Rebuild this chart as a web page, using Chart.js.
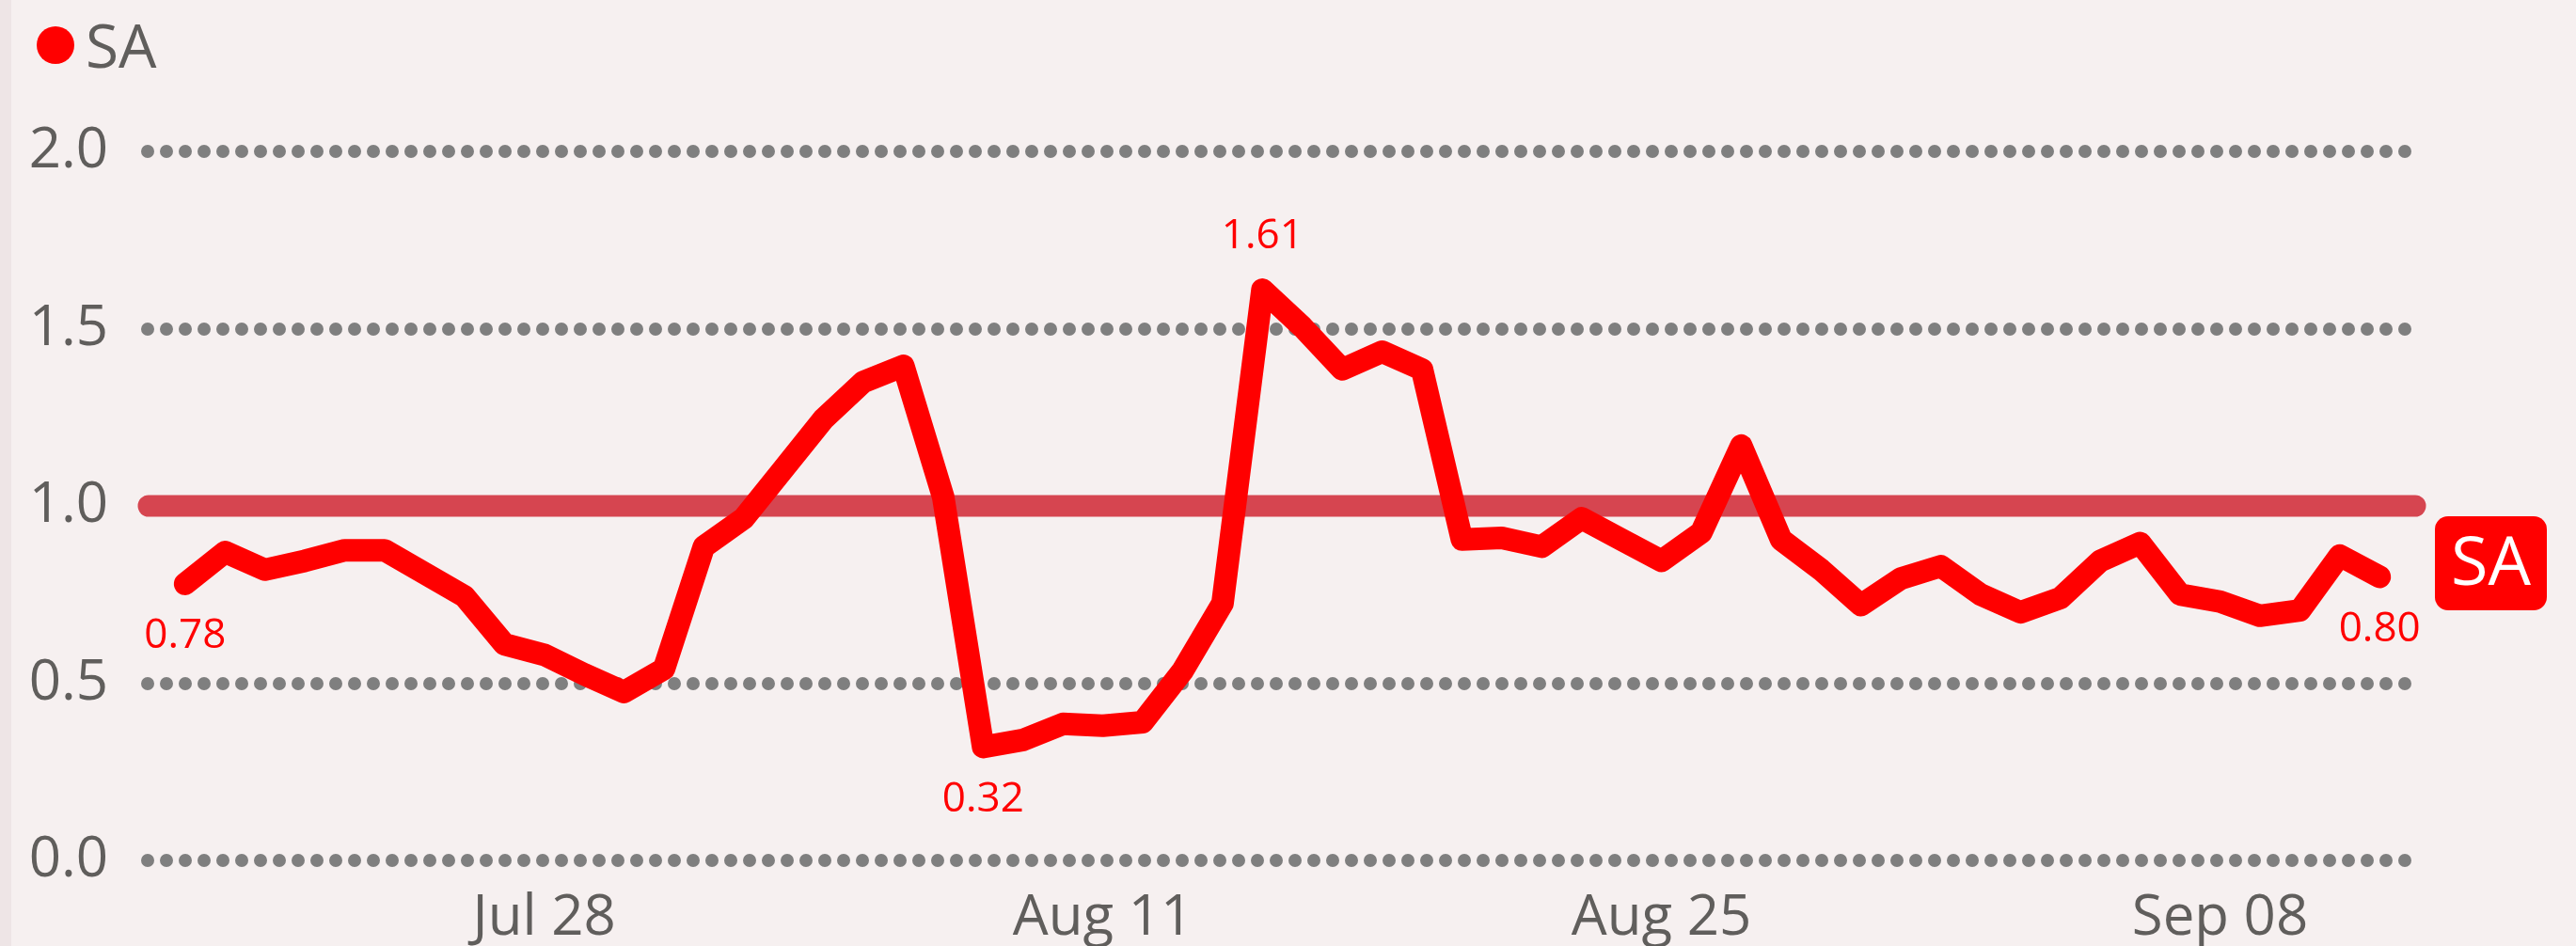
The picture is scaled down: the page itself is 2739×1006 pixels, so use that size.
<!DOCTYPE html>
<html>
<head>
<meta charset="utf-8">
<script src="https://cdn.jsdelivr.net/npm/chart.js@4.4.1/dist/chart.umd.min.js"></script>
<style>
  html, body { margin: 0; padding: 0; background: #F6F0F0; }
  #wrap { position: relative; width: 2739px; height: 1006px; overflow: hidden; }
  #edge { position: absolute; left: 0; top: 0; width: 12px; height: 1006px; background: #EEE5E6; }
  #legend { position: absolute; left: 39px; top: 16px; display: flex; align-items: center;
            font-family: 'Open Sans', sans-serif; font-size: 64px; color: #605E5C; line-height: 1; }
  #legend .dot { width: 40px; height: 40px; border-radius: 50%; background: #FF0000; margin-right: 12px; }
  canvas { position: absolute; left: 0; top: 0; }
</style>
</head>
<body>
<div id="wrap">
  <div id="edge"></div>
  <canvas id="chart" width="2739" height="1006"></canvas>
  <div id="legend"><span class="dot"></span><span>SA</span></div>
</div>
<script>
// data
const seriesName = 'SA';
const startDay = [2024, 6, 19]; // Jul 19, daily points
const values = [
  0.78, 0.87, 0.82, 0.845, 0.875, 0.875, 0.81, 0.745, 0.61, 0.58,
  0.525, 0.475, 0.54, 0.885, 0.965, 1.105, 1.245, 1.35, 1.395, 1.025,
  0.32, 0.34, 0.385, 0.38, 0.39, 0.535, 0.725, 1.61, 1.505, 1.385,
  1.435, 1.385, 0.905, 0.91, 0.885, 0.965, 0.905, 0.845, 0.925, 1.17,
  0.905, 0.82, 0.72, 0.795, 0.83, 0.75, 0.70, 0.74, 0.845, 0.895,
  0.75, 0.73, 0.69, 0.705, 0.86, 0.80
];
const tickLabels = ['Jul 28', 'Aug 11', 'Aug 25', 'Sep 08'];
const refValue = 1.0;

const months = ['Jan','Feb','Mar','Apr','May','Jun','Jul','Aug','Sep','Oct','Nov','Dec'];
const dates = values.map((v, i) => {
  const d = new Date(startDay[0], startDay[1], startDay[2] + i);
  return months[d.getMonth()] + ' ' + String(d.getDate()).padStart(2, '0');
});

// first, last, min and max get a value label
const minIdx = values.indexOf(Math.min(...values));
const maxIdx = values.indexOf(Math.max(...values));
const labelIdx = [0, minIdx, maxIdx, values.length - 1];

const textColor = '#605E5C';
const fontFamily = "'Open Sans', sans-serif";

const refLinePlugin = {
  id: 'refLine',
  beforeDraw(chart) {
    // round caps so the dashed grid shows as dots
    chart.ctx.lineCap = 'round';
  },
  beforeDatasetsDraw(chart) {
    const { ctx, chartArea, scales } = chart;
    const y = scales.y.getPixelForValue(refValue);
    ctx.save();
    ctx.strokeStyle = '#D64550';
    ctx.lineWidth = 23;
    ctx.lineCap = 'round';
    ctx.beginPath();
    ctx.moveTo(chartArea.left + 4, y);
    ctx.lineTo(chartArea.right + 6, y);
    ctx.stroke();

    const bx = chartArea.right + 27, by = y + 11, bw = 119, bh = 100;
    ctx.fillStyle = '#FF0000';
    ctx.beginPath();
    ctx.roundRect(bx, by, bw, bh, 14);
    ctx.fill();
    ctx.fillStyle = '#FFFFFF';
    ctx.font = '72px ' + fontFamily;
    ctx.textAlign = 'center';
    ctx.textBaseline = 'middle';
    ctx.fillText(seriesName, bx + bw / 2, by + bh / 2 + 2);
    ctx.restore();
  }
};

const pointLabelPlugin = {
  id: 'pointLabels',
  afterDatasetsDraw(chart) {
    const meta = chart.getDatasetMeta(0);
    const ctx = chart.ctx;
    ctx.save();
    ctx.font = '44px ' + fontFamily;
    ctx.fillStyle = '#FF0000';
    ctx.textAlign = 'center';
    ctx.textBaseline = 'middle';
    labelIdx.forEach(i => {
      const p = meta.data[i];
      const off = i === maxIdx ? -57 : 56;
      ctx.fillText(values[i].toFixed(2), p.x, p.y + off);
    });
    ctx.restore();
  }
};

new Chart(document.getElementById('chart').getContext('2d'), {
  type: 'line',
  data: {
    datasets: [{
      label: seriesName,
      data: values.map((v, i) => ({ x: i, y: v })),
      borderColor: '#FF0000',
      backgroundColor: '#FF0000',
      borderWidth: 24,
      borderJoinStyle: 'round',
      borderCapStyle: 'round',
      pointRadius: 0,
      tension: 0,
      clip: false
    }]
  },
  options: {
    responsive: false,
    animation: false,
    layout: { padding: { top: 161, right: 177, left: 0, bottom: 0 } },
    plugins: {
      legend: { display: false },
      tooltip: { enabled: false }
    },
    scales: {
      x: {
        type: 'linear',
        min: -1.01,
        max: 55.75,
        grid: { display: false },
        border: { display: false },
        afterBuildTicks: s => { s.ticks = tickLabels.map(t => ({ value: dates.indexOf(t) })); },
        afterFit: s => { s.height = 91; },
        ticks: {
          autoSkip: false,
          maxRotation: 0,
          padding: 18,
          color: textColor,
          font: { family: fontFamily, size: 60 },
          callback: v => dates[v]
        }
      },
      y: {
        min: 0,
        max: 2,
        grid: { color: '#7F7F7F', lineWidth: 14, drawTicks: false },
        border: { display: false, dash: [0, 20], dashOffset: -3 },
        afterFit: s => { s.width = 154; },
        ticks: {
          stepSize: 0.5,
          padding: 39,
          color: textColor,
          font: { family: fontFamily, size: 60 },
          callback: v => v.toFixed(1)
        }
      }
    }
  },
  plugins: [refLinePlugin, pointLabelPlugin]
});
</script>
</body>
</html>
